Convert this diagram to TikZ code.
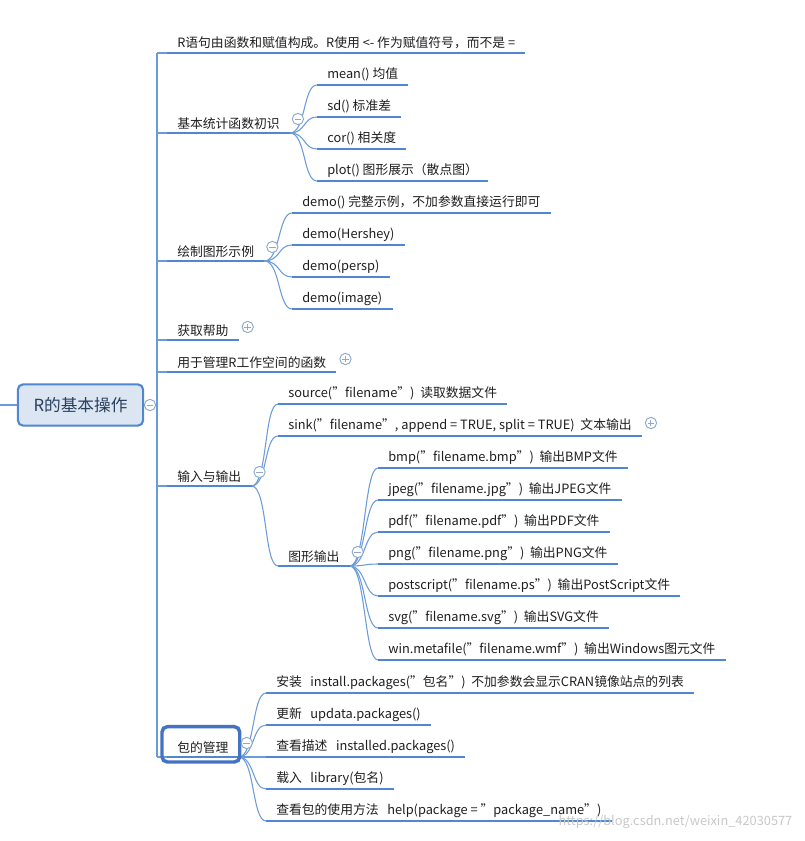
\documentclass[tikz,border=0pt]{standalone}
\usepackage{fontspec}
\setmainfont{Noto Sans CJK SC}
\definecolor{azul}{HTML}{4F87D0}
\definecolor{azulc}{HTML}{6C9CD8}
\definecolor{gris}{HTML}{8DA9CC}
\definecolor{fondo}{HTML}{DCE6F2}
\definecolor{marco}{HTML}{4472C4}
\definecolor{texto}{HTML}{1E1E1E}
\definecolor{textoraiz}{HTML}{283F5E}
\definecolor{agua}{HTML}{C8C8C8}
\begin{document}
\begin{tikzpicture}[x=0.75pt,y=-0.75pt]

	\tikzstyle{tema}=[anchor=south west, inner xsep=7.5pt, inner ysep=2.6pt, font=\fontsize{9.6}{11}\selectfont, text=texto]
	\tikzstyle{linea}=[azul, line width=2.2pt]
	\tikzstyle{conn}=[azulc, line width=0.8pt]
	\tikzstyle{plegado}=[circle, draw=gris, fill=white, minimum size=8.5pt, inner sep=0pt, line width=0.7pt,
		path picture={\draw[gris, line width=0.7pt] ([xshift=1.8pt]path picture bounding box.west) -- ([xshift=-1.8pt]path picture bounding box.east);}]
	\tikzstyle{abrir}=[plegado, path picture={\draw[gris, line width=0.7pt] ([xshift=1.8pt]path picture bounding box.west) -- ([xshift=-1.8pt]path picture bounding box.east) ([yshift=-1.8pt]path picture bounding box.north) -- ([yshift=1.8pt]path picture bounding box.south);}]

	\useasboundingbox (0,0) rectangle (804,841);

	\coordinate (sp_t) at (157, 53);
	\coordinate (sp_b) at (157, 757);
	\coordinate (izq) at (0, 405);

	%%%% RAIZ %%%%
	\node[draw=azul, fill=fondo, line width=1.6pt, rounded corners=4pt, minimum width=94pt, minimum height=31pt,
		font=\fontsize{12.5}{14}\selectfont, text=textoraiz] (raiz) at (80.5, 405) {R的基本操作};
	\node[plegado] (c_raiz) at (150, 405) {};

	%%%% RAMAS PRINCIPALES %%%%
	\node[tema] (r_1) at (167, 53) {R语句由函数和赋值构成。R使用 <- 作为赋值符号，而不是 =};
	\node[tema] (r_2) at (167, 133) {基本统计函数初识};
	\node[tema] (r_3) at (167, 261) {绘制图形示例};
	\node[tema] (r_4) at (167, 340) {获取帮助};
	\node[tema] (r_5) at (167, 372) {用于管理R工作空间的函数};
	\node[tema] (r_6) at (167, 486) {输入与输出};
	\node[tema] (r_7) at (167, 757) {包的管理};

	%%%% BASICO %%%%
	\node[tema] (r_2_1) at (317, 85) {mean() 均值};
	\node[tema] (r_2_2) at (317, 117) {sd() 标准差};
	\node[tema] (r_2_3) at (317, 149) {cor() 相关度};
	\node[tema] (r_2_4) at (317, 181) {plot() 图形展示（散点图）};

	%%%% GRAFICOS %%%%
	\node[tema] (r_3_1) at (292, 213) {demo() 完整示例，不加参数直接运行即可};
	\node[tema] (r_3_2) at (292, 245) {demo(Hershey)};
	\node[tema] (r_3_3) at (292, 277) {demo(persp)};
	\node[tema] (r_3_4) at (292, 309) {demo(image)};

	%%%% ENTRADA SALIDA %%%%
	\node[tema] (r_6_1) at (278, 404) {source("filename")\ \ 读取数据文件};
	\node[tema] (r_6_2) at (278, 436) {sink("filename", append = TRUE, split = TRUE)\ \ 文本输出};
	\node[tema] (r_6_3) at (278, 566) {图形输出};

	\node[tema] (r_6_3_1) at (378, 468) {bmp("filename.bmp")\ \ 输出BMP文件};
	\node[tema] (r_6_3_2) at (378, 500) {jpeg("filename.jpg")\ \ 输出JPEG文件};
	\node[tema] (r_6_3_3) at (378, 532) {pdf("filename.pdf")\ \ 输出PDF文件};
	\node[tema] (r_6_3_4) at (378, 564) {png("filename.png")\ \ 输出PNG文件};
	\node[tema] (r_6_3_5) at (378, 596) {postscript("filename.ps")\ \ 输出PostScript文件};
	\node[tema] (r_6_3_6) at (378, 628) {svg("filename.svg")\ \ 输出SVG文件};
	\node[tema] (r_6_3_7) at (378, 660) {win.metafile("filename.wmf")\ \ 输出Windows图元文件};

	%%%% PAQUETES %%%%
	\node[tema] (r_7_1) at (266, 693) {安装\ \ \ install.packages("包名")\ \ 不加参数会显示CRAN镜像站点的列表};
	\node[tema] (r_7_2) at (266, 725) {更新\ \ \ updata.packages()};
	\node[tema] (r_7_3) at (266, 757) {查看描述\ \ \ installed.packages()};
	\node[tema] (r_7_4) at (266, 789) {载入\ \ \ library(包名)};
	\node[tema] (r_7_5) at (266, 821) {查看包的使用方法\ \ \ help(package = "package\_name")};

	%%%% CONEXIONES %%%%
	\draw[conn] (izq) -- (raiz.west);
	\draw[conn] (raiz.east) -- (c_raiz.west);
	\draw[conn] (sp_t) -- (sp_b);
	\draw[conn] (c_raiz.east) -- (157, 405);
	\foreach \r in {r_1, r_2, r_3, r_4, r_5, r_6, r_7}
		\draw[conn] (\r.south west -| sp_t) -- (\r.south west);

	\foreach \p/\c in {r_2/r_2_1, r_2/r_2_2, r_2/r_2_3, r_2/r_2_4,
			r_3/r_3_1, r_3/r_3_2, r_3/r_3_3, r_3/r_3_4,
			r_6/r_6_1, r_6/r_6_2, r_6/r_6_3,
			r_6_3/r_6_3_1, r_6_3/r_6_3_2, r_6_3/r_6_3_3, r_6_3/r_6_3_4, r_6_3/r_6_3_5, r_6_3/r_6_3_6, r_6_3/r_6_3_7,
			r_7/r_7_1, r_7/r_7_2, r_7/r_7_3, r_7/r_7_4, r_7/r_7_5}
		\draw[conn] (\p.south east) .. controls +(16,0) and +(-14,0) .. (\c.south west);

	%%%% SUBRAYADOS %%%%
	\foreach \r in {r_1, r_2, r_3, r_4, r_5, r_6, r_7, r_2_1, r_2_2, r_2_3, r_2_4, r_3_1, r_3_2, r_3_3, r_3_4,
			r_6_1, r_6_2, r_6_3, r_6_3_1, r_6_3_2, r_6_3_3, r_6_3_4, r_6_3_5, r_6_3_6, r_6_3_7,
			r_7_1, r_7_2, r_7_3, r_7_4, r_7_5}
		\draw[linea] (\r.south west) -- (\r.south east);

	% recuadro seleccionado
	\draw[marco, line width=2.6pt, rounded corners=4pt] ([shift={(-5,5)}]r_7.south west) rectangle ([shift={(1,-11)}]r_7.north east);

	%%%% PLEGADO %%%%
	\foreach \r in {r_2, r_3, r_6, r_6_3, r_7}
		\node[plegado] at ([shift={(8,-14)}]\r.south east) {};
	\foreach \r in {r_4, r_5, r_6_2}
		\node[abrir] at ([shift={(9,-13)}]\r.south east) {};

	\node[anchor=east, text=agua, font=\fontsize{9.6}{11}\selectfont] (marca) at (797, 822) {https://blog.csdn.net/weixin\_42030577};
\end{tikzpicture}
\end{document}
